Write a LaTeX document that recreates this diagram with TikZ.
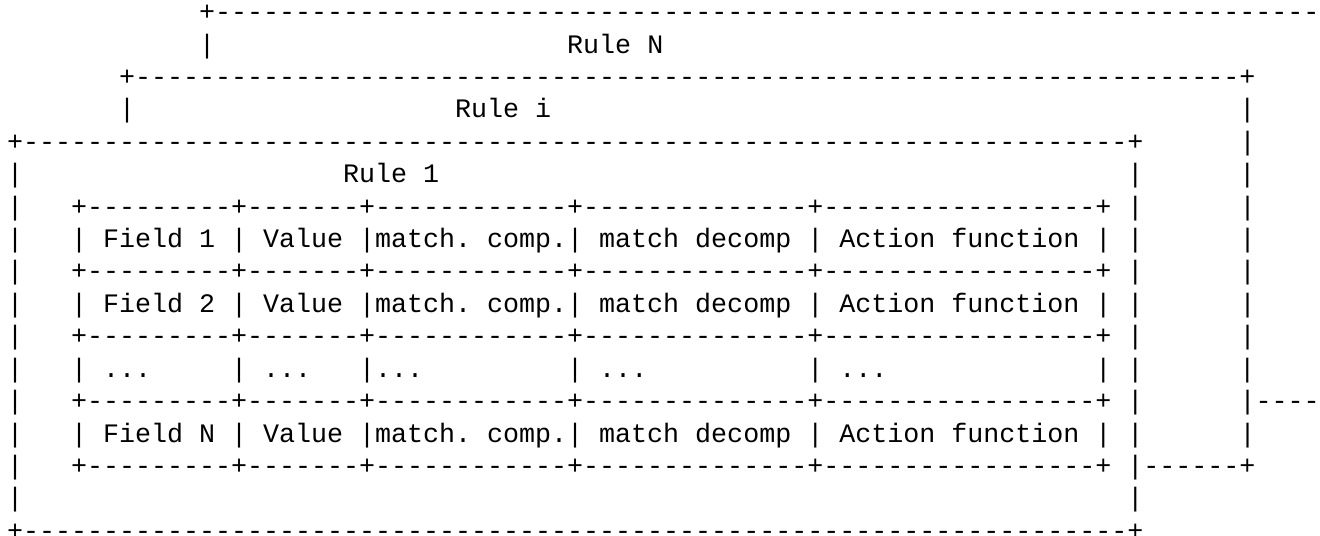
\documentclass[tikz,border=0pt]{standalone}
\usepackage{fontspec}
\setmonofont{Liberation Mono}

% one column of the character grid, and runs of characters
\newcommand\gap[1]{\hspace*{#1\dimexpr0.6em\relax}}
\newcommand\dashes[1]{\foreach\k in {1,...,#1}{-}}
\newcommand\tblrule{+\dashes{9}+\dashes{7}+\dashes{12}+\dashes{14}+\dashes{17}+}

\begin{document}
\begin{tikzpicture}[x=8.004pt, y=-16.21pt,
    ascii/.style={font=\ttfamily\fontsize{13.338pt}{16pt}\selectfont\frenchspacing,
      anchor=base west, inner sep=0pt, outer sep=0pt, text depth=0pt}]
  \useasboundingbox (0,0) rectangle (82.459,16.533);
  % (column, line) of the grid
  \begin{scope}[shift={(0.4373,-0.3652)}]
    \node[ascii] (ruleN-top)   at (12,1)  {+\dashes{69}};
    \node[ascii] (ruleN-title) at (12,2)  {|\gap{22}Rule N};
    \node[ascii] (rulei-top)   at (7,3)   {+\dashes{69}+};
    \node[ascii] (rulei-title) at (7,4)   {|\gap{20}Rule i\gap{43}|};
    \node[ascii] (rule1-top)   at (0,5)   {+\dashes{69}+\gap{6}|};
    \node[ascii] (rule1-title) at (0,6)   {|\gap{20}Rule 1\gap{43}|\gap{6}|};
    \node[ascii] (tbl-top)     at (0,7)   {|\gap{3}\tblrule\gap{1}|\gap{6}|};
    \node[ascii] (field1)      at (0,8)   {|\gap{3}| Field 1 | Value |match. comp.| match decomp | Action function | |\gap{6}|};
    \node[ascii] (tbl-mid1)    at (0,9)   {|\gap{3}\tblrule\gap{1}|\gap{6}|};
    \node[ascii] (field2)      at (0,10)  {|\gap{3}| Field 2 | Value |match. comp.| match decomp | Action function | |\gap{6}|};
    \node[ascii] (tbl-mid2)    at (0,11)  {|\gap{3}\tblrule\gap{1}|\gap{6}|};
    \node[ascii] (fielddots)   at (0,12)  {|\gap{3}| ...\gap{5}| ...\gap{3}|...\gap{9}| ...\gap{10}| ...\gap{13}| |\gap{6}|};
    \node[ascii] (tbl-mid3)    at (0,13)  {|\gap{3}\tblrule\gap{1}|\gap{6}|\dashes{4}};
    \node[ascii] (fieldN)      at (0,14)  {|\gap{3}| Field N | Value |match. comp.| match decomp | Action function | |\gap{6}|};
    \node[ascii] (tbl-bot)     at (0,15)  {|\gap{3}\tblrule\gap{1}|\dashes{6}+};
    \node[ascii] (rule1-blank) at (0,16)  {|\gap{69}|};
    \node[ascii] (rule1-bot)   at (0,17)  {+\dashes{69}+};
  \end{scope}
\end{tikzpicture}
\end{document}
